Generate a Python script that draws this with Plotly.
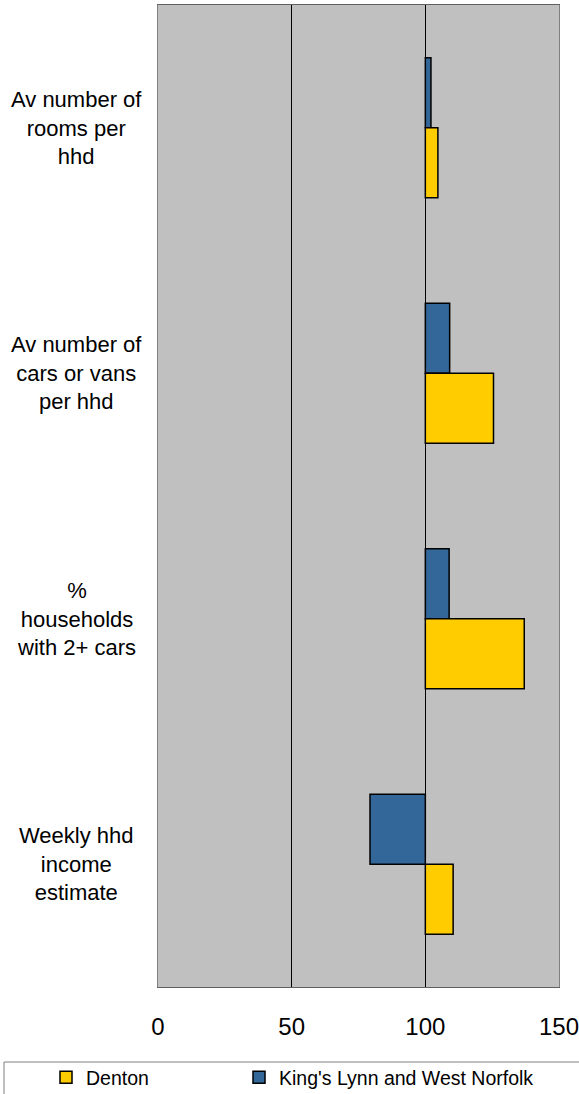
import plotly.graph_objects as go

categories = ["Av number of<br>rooms per<br>hhd",
              "Av number of<br>cars or vans<br>per hhd",
              "%<br>households<br>with 2+ cars",
              "Weekly hhd<br>income<br>estimate"]
cat_keys = ["rooms", "cars", "cars2", "income"]
kings_lynn = [102.1, 109.1, 108.9, 79.3]
denton = [104.7, 125.5, 137.0, 110.4]
x_ticks = [0, 50, 100, 150]
BASE = 100

fig = go.Figure()
# blue first so it sits on top of each group (y axis is reversed)
fig.add_trace(go.Bar(y=cat_keys, x=[v - BASE for v in kings_lynn], base=BASE,
                     orientation="h", name="King's Lynn and West Norfolk",
                     marker=dict(color="#336699", line=dict(color="black", width=1.5)),
                     legend="legend2"))
fig.add_trace(go.Bar(y=cat_keys, x=[v - BASE for v in denton], base=BASE,
                     orientation="h", name="Denton",
                     marker=dict(color="#FFCC00", line=dict(color="black", width=1.5)),
                     legend="legend"))

for key, label in zip(cat_keys, categories):
    fig.add_annotation(x=-0.202, xref="paper", y=key, yref="y", text=label,
                       showarrow=False, xanchor="center", align="center",
                       font=dict(size=22, color="black"))

# legend frame
fig.add_shape(type="rect", xref="paper", yref="paper",
              x0=-0.384, x1=1.2, y0=-0.0764, y1=-0.2,
              line=dict(color="#808080", width=1), fillcolor="white", layer="below")

leg = dict(orientation="h", xref="container", yref="container",
           y=1 - 1058 / 1094, xanchor="left", yanchor="top",
           font=dict(size=19.5), bgcolor="rgba(0,0,0,0)")

fig.update_layout(
    width=579, height=1094,
    margin=dict(l=158, r=20, t=5, b=107, autoexpand=False),
    paper_bgcolor="white", plot_bgcolor="#C0C0C0",
    font=dict(family="Liberation Sans, Arial, sans-serif", color="black"),
    barmode="group", bargap=0.43, bargroupgap=0,
    showlegend=True,
    legend=dict(leg, x=46 / 579),
    legend2=dict(leg, x=239 / 579),
    xaxis=dict(range=[0, 150], tickvals=x_ticks, showgrid=True, gridcolor="black",
               gridwidth=1, zeroline=False, showline=True, linecolor="#606060",
               mirror=True, ticks="", ticklabelstandoff=18, automargin=False,
               ticklabeloverflow="allow", tickfont=dict(size=24)),
    yaxis=dict(autorange="reversed", showticklabels=False, showgrid=False,
               showline=True, linecolor="#808080", mirror=True, ticks=""),
)

fig.write_html("out.html", config={"displayModeBar": False},
               post_script="document.body.style.margin='0';")
